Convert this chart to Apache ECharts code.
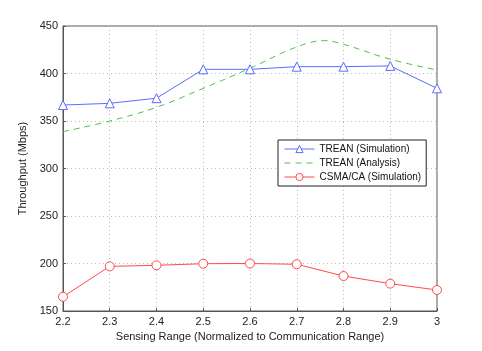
<!DOCTYPE html>
<html>
<head>
<meta charset="utf-8">
<script src="https://cdn.jsdelivr.net/npm/echarts@6/dist/echarts.min.js"></script>
<style>
  html, body { margin: 0; padding: 0; background: #fff; }
  #chart { width: 482px; height: 351px; }
</style>
</head>
<body>
<div id="chart"></div>
<script>
// sensing range, normalized to communication range
var ranges = [2.2, 2.3, 2.4, 2.5, 2.6, 2.7, 2.8, 2.9, 3.0];
var treanSim = [366.8, 368.6, 374, 404.4, 404.4, 407.2, 407.2, 408, 384.4];
var csmaSim = [165, 197, 198.1, 199.8, 200, 199.2, 186.8, 178.8, 172.1];
// analysis curve
var analysisX = [2.2, 2.3, 2.4, 2.5, 2.6, 2.7, 2.76, 2.8, 2.9, 3.0];
var analysisY = [338.8, 350, 364.4, 384.4, 405.5, 428, 434.6, 430.7, 415, 403.7];

var font = 'Liberation Sans, Arial, sans-serif';
var blue = '#5a6cff', green = '#4cc24c', red = '#ff4a4a';

function pairs(xs, ys) {
    var out = [];
    for (var i = 0; i < xs.length; i++) out.push([xs[i], ys[i]]);
    return out;
}

var chart = echarts.init(document.getElementById('chart'));
chart.setOption({
    animation: false,
    backgroundColor: '#fff',
    grid: { left: 63, right: 45, top: 26, bottom: 40 },
    legend: {
        orient: 'vertical',
        left: 278, top: 140,
        padding: [4, 5, 4, 6],
        itemGap: 4,
        itemWidth: 30, itemHeight: 9,
        borderColor: '#222', borderWidth: 1,
        backgroundColor: '#fff',
        textStyle: { fontFamily: font, fontSize: 10, color: '#111' },
        data: [{
            name: 'TREAN (Simulation)',
            itemStyle: { color: '#fff', borderColor: blue, borderWidth: 1 },
            lineStyle: { width: 1 }
        }, {
            name: 'TREAN (Analysis)',
            itemStyle: { color: 'transparent', borderColor: 'transparent' },
            lineStyle: { width: 1, type: [6, 5] }
        }, {
            name: 'CSMA/CA (Simulation)',
            itemStyle: { color: '#fff', borderColor: red, borderWidth: 1 },
            lineStyle: { width: 1 }
        }]
    },
    xAxis: {
        type: 'value', min: 2.2, max: 3, interval: 0.1,
        name: 'Sensing Range (Normalized to Communication Range)',
        nameLocation: 'middle', nameGap: 20,
        nameTextStyle: { fontFamily: font, fontSize: 11, color: '#222' },
        axisLine: { lineStyle: { color: '#555' } },
        axisTick: { inside: true, length: 3, lineStyle: { color: '#555' } },
        axisLabel: { fontFamily: font, fontSize: 11, color: '#222', margin: 5,
            formatter: function (v) { return +v.toFixed(1) + ''; } },
        splitLine: { show: true, lineStyle: { color: '#bbb', type: [1, 3] } }
    },
    yAxis: {
        type: 'value', min: 150, max: 450, interval: 50,
        name: 'Throughput (Mbps)',
        nameLocation: 'middle', nameGap: 32,
        nameTextStyle: { fontFamily: font, fontSize: 11, color: '#222' },
        axisLine: { show: true, lineStyle: { color: '#555' } },
        axisTick: { show: true, inside: true, length: 3, lineStyle: { color: '#555' } },
        axisLabel: { fontFamily: font, fontSize: 11, color: '#222', margin: 5 },
        splitLine: { show: true, lineStyle: { color: '#bbb', type: [1, 3] } }
    },
    graphic: [{
        type: 'rect', silent: true,
        shape: { x: 63, y: 26, width: 374, height: 285 },
        style: { fill: 'none', stroke: '#555', lineWidth: 1 }
    }],
    series: [{
        name: 'TREAN (Simulation)', type: 'line',
        data: pairs(ranges, treanSim),
        symbol: 'triangle', symbolSize: 9,
        itemStyle: { color: '#fff', borderColor: blue, borderWidth: 1 },
        lineStyle: { color: blue, width: 1 },
        color: blue
    }, {
        name: 'TREAN (Analysis)', type: 'line',
        data: pairs(analysisX, analysisY),
        smooth: 0.4, showSymbol: false, symbol: 'none',
        lineStyle: { color: green, width: 1, type: [6, 5] },
        color: green
    }, {
        name: 'CSMA/CA (Simulation)', type: 'line',
        data: pairs(ranges, csmaSim),
        symbol: 'circle', symbolSize: 9,
        itemStyle: { color: '#fff', borderColor: red, borderWidth: 1 },
        lineStyle: { color: red, width: 1 },
        color: red
    }]
});
</script>
</body>
</html>
